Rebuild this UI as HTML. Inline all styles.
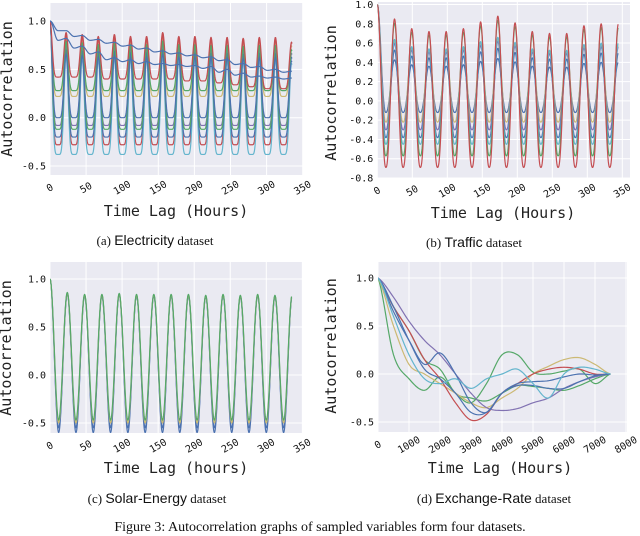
<!DOCTYPE html>
<html><head><meta charset="utf-8">
<style>
html,body{margin:0;padding:0;background:#fff;}
body{width:640px;height:527px;overflow:hidden;position:relative;}
svg{position:absolute;left:0;top:0;}
.cap{position:absolute;font-family:"Liberation Serif",serif;font-size:13px;color:#111;white-space:nowrap;transform:translateX(-50%);}
.cap .s{font-family:"Liberation Sans",sans-serif;font-size:14px;}
</style></head><body>
<svg id="fig" width="640" height="527"></svg>
<div class="cap" style="left:155px;top:232px">(a) <span class="s">Electricity</span> dataset</div>
<div class="cap" style="left:474px;top:234px">(b) <span class="s">Traffic</span> dataset</div>
<div class="cap" style="left:157px;top:490px">(c) <span class="s">Solar-Energy</span> dataset</div>
<div class="cap" style="left:494px;top:490px">(d) <span class="s">Exchange-Rate</span> dataset</div>
<div class="cap" style="left:320px;top:520px;font-size:14px">Figure 3: Autocorrelation graphs of sampled variables form four datasets.</div>
<script>
// ---------- data ----------
const elecPeriod = 22.3, elecEnd = 335;
const elecBlue1Peaks = [1,.9,.85,.81,.78,.75,.72,.69,.67,.65,.63,.6,.56,.53,.5,.48];
const elecBlue1Troughs = [.9,.84,.8,.77,.74,.71,.68,.66,.64,.62,.59,.55,.52,.49,.47];
const elecBlue2Peaks = [1,.82,.74,.68,.62,.6,.58,.56,.55,.54,.53,.5,.46,.43,.42,.41];
const elecBlue2Troughs = [.8,.72,.66,.6,.58,.56,.55,.54,.53,.51,.47,.44,.42,.41,.40];
const elecEnvelope = [1,.88,.86,.84,.86,.84,.84,.88,.84,.84,.83,.83,.82,.83,.83,.78];
const elecRedTroughs = [.42,.42,.42,.40,.40,.40,.40,.40,.38,.38,.36,.34,.32,.30,.30];
const elecScale = [.95,.85,1.0,.72,.85,.8,.9,.75];
const elecTrough = [.22,.28,-.28,-.38,-.08,-.2,-.12,.0];
const elecColors = ["#CCB974","#55A868","#C44E52","#64B5CD","#8172B2","#4C72B0","#55A868","#4C72B0"];

const trafPeriod = 24.6, trafEnd = 344;
const trafEnvelope = [1,.85,.75,.72,.72,.75,.82,.88,.81,.72,.70,.70,.78,.80,.80];
const trafScale = [1.0,.95,.75,.62,.7,.72,.5];
const trafTrough = [-.69,-.57,-.45,-.38,-.3,-.22,-.12];
const trafColors = ["#C44E52","#55A868","#64B5CD","#4C72B0","#8172B2","#CCB974","#4C72B0"];

const solPeriod = 24, solEnd = 335;
const solEnvelope = [1,.86,.84,.84,.85,.84,.84,.84,.84,.83,.84,.83,.84,.83,.84];
const solScale = [.99,.98,.99,1.0];
const solTrough = [-.6,-.55,-.5,-.47];
const solColors = ["#4C72B0","#4C72B0","#CCB974","#55A868"];

const exLags = [0,500,1000,1500,2000,2500,3000,3500,4000,4500,5000,5500,6000,6500,7000,7500];
const exGreen1 = [1,.2,-.05,-.17,-.03,-.2,-.3,-.1,.2,.2,.02,0,.03,.05,-.1,0];
const exGreen2 = [1,.7,.45,.15,.05,-.2,-.25,-.28,-.2,-.12,-.13,-.15,-.17,-.12,-.05,0];
const exYellow = [1,.5,.1,0,-.1,-.2,-.3,-.35,-.25,-.15,0,.08,.15,.17,.1,0];
const exRed = [1,.7,.45,.15,-.05,-.3,-.48,-.42,-.2,-.1,0,.05,.07,.05,0,0];
const exPurple = [1,.8,.55,.35,.2,0,-.2,-.35,-.38,-.36,-.3,-.25,-.15,-.08,-.03,0];
const exBlue1 = [1,.65,.35,.1,.22,0,-.3,-.4,-.2,-.1,-.08,-.07,-.03,0,-.01,0];
const exBlue2 = [1,.7,.35,.05,-.05,-.2,-.4,-.4,-.2,-.12,-.12,-.15,-.15,-.08,-.02,0];
const exCyan = [1,.6,.2,-.05,-.1,-.05,-.15,-.05,0,.05,-.1,-.25,0,.07,.05,0];

// ---------- drawing ----------
const NS="http://www.w3.org/2000/svg";
const svg=document.getElementById('fig');
function mk(tag,attrs,parent){const e=document.createElementNS(NS,tag);for(const k in attrs)e.setAttribute(k,attrs[k]);(parent||svg).appendChild(e);return e;}

function panel(id,cfg){
  const g=mk('g',{});
  
  
  const bg=mk('rect',{x:cfg.L,y:cfg.T,width:cfg.R-cfg.L,height:cfg.B-cfg.T,fill:'#EAEAF2'},g);
  
  
  const sx=v=>cfg.L+(v-cfg.x0)*cfg.kx, sy=v=>cfg.y1+(1-v)*cfg.ky;
  cfg.sx=sx;cfg.sy=sy;
  cfg.xt.forEach(t=>{
    const x=sx(t);
    const l=mk('line',{x1:x,x2:x,y1:cfg.T,y2:cfg.B,stroke:'#fff','stroke-width':1},g);
    
    
    const tx=mk('text',{x:x,y:cfg.B+16,'text-anchor':'middle','font-family':'DejaVu Sans Mono, Liberation Mono, monospace','font-size':'10',fill:'#111',transform:`rotate(-30 ${x} ${cfg.B+13})`},g);
    tx.textContent=String(t);
    
    
  });
  cfg.yt.forEach(t=>{
    const y=sy(t);
    const l=mk('line',{x1:cfg.L,x2:cfg.R,y1:y,y2:y,stroke:'#fff','stroke-width':1},g);
    
    
    const tx=mk('text',{x:cfg.L-4,y:y+3.5,'text-anchor':'end','font-family':'DejaVu Sans Mono, Liberation Mono, monospace','font-size':'10',fill:'#111'},g);
    tx.textContent=t.toFixed(1);
    
    
  });
  const xt=mk('text',{x:cfg.xtx,y:cfg.xty,'text-anchor':'middle','font-family':'DejaVu Sans Mono, Liberation Mono, monospace','font-size':'15',fill:'#222'},g);
  xt.textContent=cfg.xlabel;
  
  
  const yt=mk('text',{x:cfg.ytx,y:cfg.yty,'text-anchor':'middle','font-family':'DejaVu Sans Mono, Liberation Mono, monospace','font-size':'15',fill:'#222',transform:`rotate(-90 ${cfg.ytx} ${cfg.yty})`},g);
  yt.textContent='Autocorrelation';
  
  
  const cp=mk('clipPath',{id:id+'clip'},g);
  mk('rect',{x:cfg.L,y:cfg.T,width:cfg.R-cfg.L,height:cfg.B-cfg.T},cp);
  cfg.lines=mk('g',{'clip-path':`url(#${id}clip)`},g);
  return cfg;
}
function drawLine(cfg,pts,color,name){
  const d=pts.map((p,i)=>(i?'L':'M')+cfg.sx(p[0]).toFixed(2)+' '+cfg.sy(p[1]).toFixed(2)).join('');
  const p=mk('path',{d:d,fill:'none',stroke:color,'stroke-width':1.2,'stroke-linejoin':'round'},cfg.lines);
  
  
}
function periodic(peaks,troughs,period,tEnd,k){
  const pts=[];
  for(let t=0;t<=tEnd;t+=0.5){
    const u=t/period,n=Math.round(u),m=Math.floor(u),ph=u-n;
    const P=peaks[Math.min(n,peaks.length-1)],T=troughs[Math.min(m,troughs.length-1)];
    const w=Math.pow(Math.cos(Math.PI*ph)**2,k);
    pts.push([t,T+(P-T)*w]);
  }
  return pts;
}
function smooth(xs,ys){
  const pts=[];
  for(let i=0;i<xs.length-1;i++){
    const p0=ys[Math.max(i-1,0)],p1=ys[i],p2=ys[i+1],p3=ys[Math.min(i+2,ys.length-1)];
    for(let s=0;s<10;s++){const t=s/10;
      const v=0.5*((2*p1)+(-p0+p2)*t+(2*p0-5*p1+4*p2-p3)*t*t+(-p0+3*p1-3*p2+p3)*t*t*t);
      pts.push([xs[i]+(xs[i+1]-xs[i])*t,v]);}
  }
  pts.push([xs[xs.length-1],ys[ys.length-1]]);
  return pts;
}
const trough=(n,v)=>new Array(n).fill(v);

// Panel A
const A=panel('electricity',{L:50,R:302.7,T:3,B:175,x0:0,kx:0.722,y1:21,ky:96.7,xt:[0,50,100,150,200,250,300,350],yt:[-0.5,0,0.5,1.0],xlabel:'Time Lag (Hours)',xtx:176,xty:216,ytx:12,yty:89});
elecScale.forEach((s,i)=>{
  drawLine(A,periodic(elecEnvelope.map((v,j)=>j?v*s:1),trough(15,elecTrough[i]),elecPeriod,elecEnd,3),elecColors[i],'electricity-series');
});
drawLine(A,periodic(elecEnvelope,elecRedTroughs,elecPeriod,elecEnd,3),'#C44E52','electricity-series-red');
drawLine(A,periodic(elecBlue2Peaks,elecBlue2Troughs,elecPeriod,elecEnd,1),'#4C72B0','electricity-series-blue2');
drawLine(A,periodic(elecBlue1Peaks,elecBlue1Troughs,elecPeriod,elecEnd,1),'#4C72B0','electricity-series-blue1');

// Panel B
const Bp=panel('traffic',{L:377.3,R:630,T:2,B:178,x0:0,kx:0.7,y1:4.5,ky:96.4,xt:[0,50,100,150,200,250,300,350],yt:[-0.8,-0.6,-0.4,-0.2,0,0.2,0.4,0.6,0.8,1.0],xlabel:'Time Lag (Hours)',xtx:503,xty:218,ytx:336,yty:93});
trafScale.slice().reverse().forEach((s,ri)=>{
  const i=trafScale.length-1-ri;
  drawLine(Bp,periodic(trafEnvelope.map((v,j)=>j?v*s:1),trough(14,trafTrough[i]),trafPeriod,trafEnd,1.2),trafColors[i],'traffic-series');
});

// Panel C
const C=panel('solar',{L:50,R:302.3,T:262,B:433,x0:0,kx:0.721,y1:279,ky:96,xt:[0,50,100,150,200,250,300,350],yt:[-0.5,0,0.5,1.0],xlabel:'Time Lag (hours)',xtx:176,xty:473,ytx:11,yty:348});
solScale.forEach((s,i)=>{
  drawLine(C,periodic(solEnvelope.map((v,j)=>j?v*s:1),trough(14,solTrough[i]),solPeriod,solEnd,1),solColors[i],'solar-series');
});

// Panel D
const D=panel('exchange',{L:378,R:627,T:262,B:432,x0:0,kx:0.031,y1:278,ky:96,xt:[0,1000,2000,3000,4000,5000,6000,7000,8000],yt:[-0.5,0,0.5,1.0],xlabel:'Time Lag (Hours)',xtx:500,xty:473,ytx:336,yty:346});
[[exGreen1,"#55A868"],[exGreen2,"#55A868"],[exYellow,"#CCB974"],[exRed,"#C44E52"],[exPurple,"#8172B2"],[exBlue1,"#4C72B0"],[exBlue2,"#4C72B0"],[exCyan,"#64B5CD"]].forEach(s=>{
  drawLine(D,smooth(exLags,s[0]),s[1],'exchange-series');
});
</script>
</body></html>
